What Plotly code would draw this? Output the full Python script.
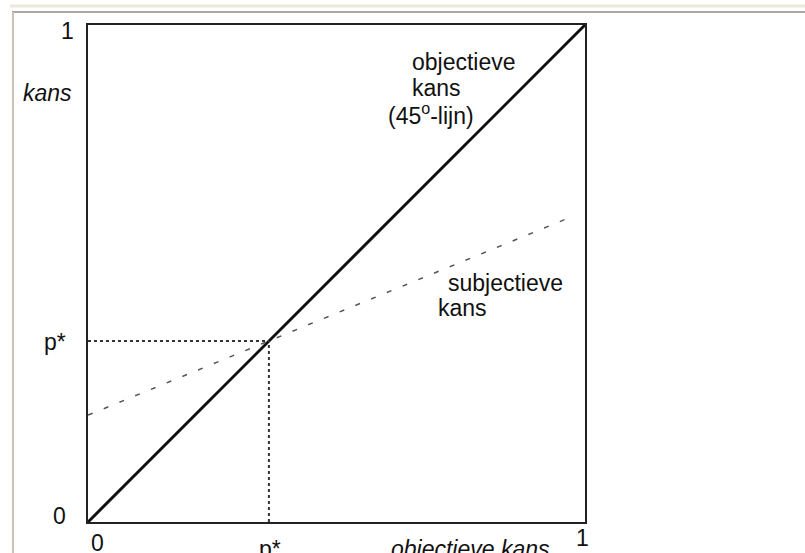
import plotly.graph_objects as go

# ---- data ----
diag_x = [0, 1]
diag_y = [0, 1]
subj_x = [0, 0.975]
subj_y = [0.215, 0.615]
p_star = 0.364
x_tick_vals = [0, p_star, 1]
x_tick_text = ["0", "p*", "1"]
y_tick_vals = [0, p_star, 1]
y_tick_text = ["0", "p*", "1"]
x_title = "objectieve kans"
y_title = "kans"

W, H = 805, 553
L, T, R, B = 88, 25, 220, 31
PW, PH = W - L - R, H - T - B

def px2x(px):
    return (px - L) / PW

def py2y(py):
    return (H - B - py) / PH

FONT = "Liberation Sans, Arial, sans-serif"
fs = 23
TXT = "#111"

fig = go.Figure()
fig.add_trace(go.Scatter(x=diag_x, y=diag_y, mode="lines",
                         line=dict(color="#111", width=3), hoverinfo="skip", showlegend=False))
fig.add_trace(go.Scatter(x=subj_x, y=subj_y, mode="lines",
                         line=dict(color="#555", width=1.5, dash="5px,12px"), hoverinfo="skip", showlegend=False))
fig.add_trace(go.Scatter(x=[0, p_star], y=[p_star, p_star], mode="lines",
                         line=dict(color="#333", width=2, dash="dot"), hoverinfo="skip", showlegend=False))
fig.add_trace(go.Scatter(x=[p_star, p_star], y=[0, p_star], mode="lines",
                         line=dict(color="#333", width=2, dash="dot"), hoverinfo="skip", showlegend=False))

ann = []
# y tick labels (value -> paper y, nudged by pixel offsets)
y_offsets = [(68, 516), (68, 342), (76, 31)]
for v, t, (rx, cy) in zip(y_tick_vals, y_tick_text, y_offsets):
    ann.append(dict(xref="paper", yref="paper", x=px2x(rx), y=v, yshift=(py2y(cy) - v) * PH,
                    text=t, showarrow=False, xanchor="right", yanchor="middle",
                    font=dict(family=FONT, size=fs, color=TXT)))
# x tick labels
x_offsets = [(97, 543), (270, 549), (582, 538)]
for v, t, (cx, cy) in zip(x_tick_vals, x_tick_text, x_offsets):
    ann.append(dict(xref="paper", yref="paper", x=v, xshift=(px2x(cx) - v) * PW, y=py2y(cy),
                    text=t, showarrow=False, xanchor="center", yanchor="middle",
                    font=dict(family=FONT, size=fs, color=TXT)))
# axis titles
ann.append(dict(xref="paper", yref="paper", x=px2x(470), y=py2y(549), text="<i>" + x_title + "</i>",
                showarrow=False, xanchor="center", yanchor="middle",
                font=dict(family=FONT, size=fs, color=TXT)))
ann.append(dict(xref="paper", yref="paper", x=px2x(47), y=py2y(93), text="<i>" + y_title + "</i>",
                showarrow=False, xanchor="center", yanchor="middle",
                font=dict(family=FONT, size=fs, color=TXT)))
# curve labels
labels = [("objectieve", 410, 62), ("kans", 410, 88), ("(45<sup>o</sup>-lijn)", 386, 114),
          ("subjectieve", 446, 283), ("kans", 436, 308)]
for t, lx, cy in labels:
    ann.append(dict(xref="paper", yref="paper", x=px2x(lx), y=py2y(cy), text=t, showarrow=False,
                    xanchor="left", yanchor="middle", font=dict(family=FONT, size=fs, color=TXT)))

shapes = [
    dict(type="line", xref="paper", yref="paper", x0=px2x(10), x1=px2x(805), y0=py2y(6), y1=py2y(6),
         line=dict(color="#ECE9D8", width=3)),
    dict(type="line", xref="paper", yref="paper", x0=px2x(12), x1=px2x(805), y0=py2y(12), y1=py2y(12),
         line=dict(color="#A8A8A0", width=2)),
    dict(type="line", xref="paper", yref="paper", x0=px2x(13), x1=px2x(13), y0=py2y(12), y1=py2y(553),
         line=dict(color="#C8C4B8", width=2)),
]

axis_common = dict(range=[0, 1], showgrid=False, zeroline=False, showticklabels=False, ticks="",
                   showline=True, mirror=True, linecolor="#222", linewidth=2, fixedrange=True)
fig.update_layout(
    width=W, height=H,
    margin=dict(l=L, r=R, t=T, b=B),
    paper_bgcolor="white", plot_bgcolor="white",
    xaxis=axis_common, yaxis=axis_common,
    annotations=ann, shapes=shapes, showlegend=False,
)
fig.write_html("out.html", config={"displayModeBar": False},
               post_script="document.body.style.margin='0';document.body.style.overflow='hidden';")
